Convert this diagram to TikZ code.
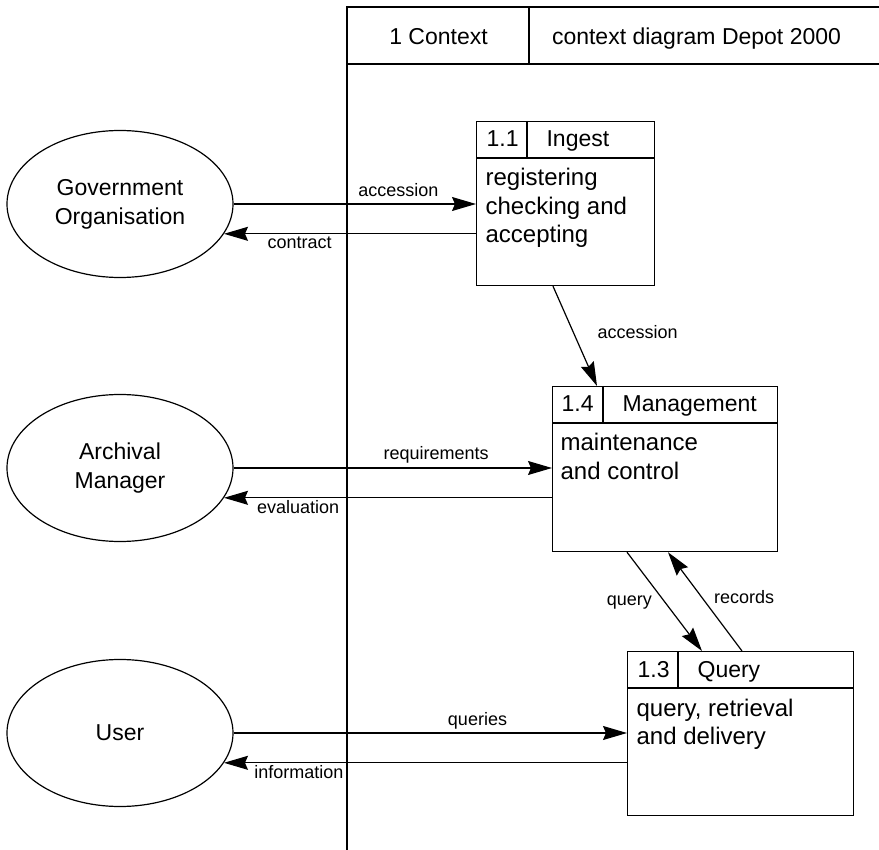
\documentclass[tikz,border=0pt]{standalone}
\usepackage{fontspec}
\setmainfont{Liberation Sans}
\usetikzlibrary{arrows.meta,shapes.geometric,calc}
\begin{document}
\begin{tikzpicture}[x=1pt,y=-1pt,line width=1.2pt,
  arr/.style={-{Stealth[length=24pt,width=14pt,inset=3pt]}},
  ent/.style={draw,ellipse,minimum width=226pt,minimum height=147pt,inner sep=0pt,align=center,font=\fontsize{23}{29}\selectfont},
  proc/.style={draw,anchor=north west,inner sep=0pt},
  head/.style={font=\fontsize{23}{28}\selectfont,inner sep=0pt},
  body/.style={font=\fontsize{24}{28.5}\selectfont,inner sep=0pt,align=left,anchor=base west},
  lbl/.style={font=\fontsize{18}{20}\selectfont,inner sep=0pt}
]
\useasboundingbox (0,0) rectangle (879,850);
% frame
\draw (347,850) -- (347,7) -- (879,7);
\draw (347,64) -- (879,64);
\draw (529,7) -- (529,64);
\node[head,anchor=base] (ctx) at (438.5,45) {1 Context};
\node[head,anchor=base] (ttl) at (696.5,45) {context diagram Depot 2000};
% external entities
\node[ent] (gov) at (120,204) {Government\\Organisation};
\node[ent] (arch) at (120,468) {Archival\\Manager};
\node[ent] (user) at (120,733) {User};
% processes
\node[proc,minimum width=178pt,minimum height=164pt] (ing) at (476,121) {};
\draw ($(ing.north west)+(0,37)$) -- ($(ing.north east)+(0,37)$);
\draw ($(ing.north west)+(51,0)$) -- ++(0,37);
\node[head,anchor=base west] (ingn) at ($(ing.north west)+(10,26)$) {1.1};
\node[head,anchor=base west] (ingt) at ($(ing.north west)+(70,26)$) {Ingest};
\node[body] (ingb) at ($(ing.north west)+(9,122)$) {registering\\checking and\\accepting};

\node[proc,minimum width=225pt,minimum height=165pt] (mg) at (552,386) {};
\draw ($(mg.north west)+(0,37)$) -- ($(mg.north east)+(0,37)$);
\draw ($(mg.north west)+(51,0)$) -- ++(0,37);
\node[head,anchor=base west] (mgn) at ($(mg.north west)+(9,26)$) {1.4};
\node[head,anchor=base west] (mgt) at ($(mg.north west)+(70,26)$) {Management};
\node[body] (mgb) at ($(mg.north west)+(8,93.5)$) {maintenance\\and control};

\node[proc,minimum width=226pt,minimum height=164pt] (qu) at (627,651) {};
\draw ($(qu.north west)+(0,37)$) -- ($(qu.north east)+(0,37)$);
\draw ($(qu.north west)+(51,0)$) -- ++(0,37);
\node[head,anchor=base west] (qun) at ($(qu.north west)+(10,26)$) {1.3};
\node[head,anchor=base west] (qut) at ($(qu.north west)+(70,26)$) {Query};
\node[body] (qub) at ($(qu.north west)+(9,93.5)$) {query, retrieval\\and delivery};
% flows
\draw[arr] (gov.east) -- (gov.east -| ing.west)
  node[lbl,pos=.68,anchor=base,yshift=7pt] {accession};
\draw[arr] (ing.west |- gov.-16.9) -- (gov.-16.9)
  node[lbl,pos=.70,anchor=base,yshift=-15pt] {contract};
\draw[arr] ($(ing.south west)+(77,0)$) -- ($(mg.north west)+(45,0)$)
  node[lbl,pos=.525,anchor=base west,xshift=21pt] {accession};
\draw[arr] (arch.east) -- (arch.east -| mg.west)
  node[lbl,pos=.636,anchor=base,yshift=8pt] {requirements};
\draw[arr] (mg.west |- arch.-16.9) -- (arch.-16.9)
  node[lbl,pos=.774,anchor=base,yshift=-16pt] {evaluation};
\draw[arr] ($(mg.south west)+(75,0)$) -- ($(qu.north west)+(75,0)$)
  node[lbl,pos=.54,anchor=base east,xshift=-15pt] {query};
\draw[arr] ($(qu.north west)+(115,0)$) -- ($(mg.south west)+(116,0)$)
  node[lbl,pos=.48,anchor=base west,xshift=7pt] {records};
\draw[arr] (user.east) -- (user.east -| qu.west)
  node[lbl,pos=.62,anchor=base,yshift=8pt] {queries};
\draw[arr] (qu.west |- user.-16.9) -- (user.-16.9)
  node[lbl,pos=.814,anchor=base,yshift=-16pt] {information};
\end{tikzpicture}
\end{document}
